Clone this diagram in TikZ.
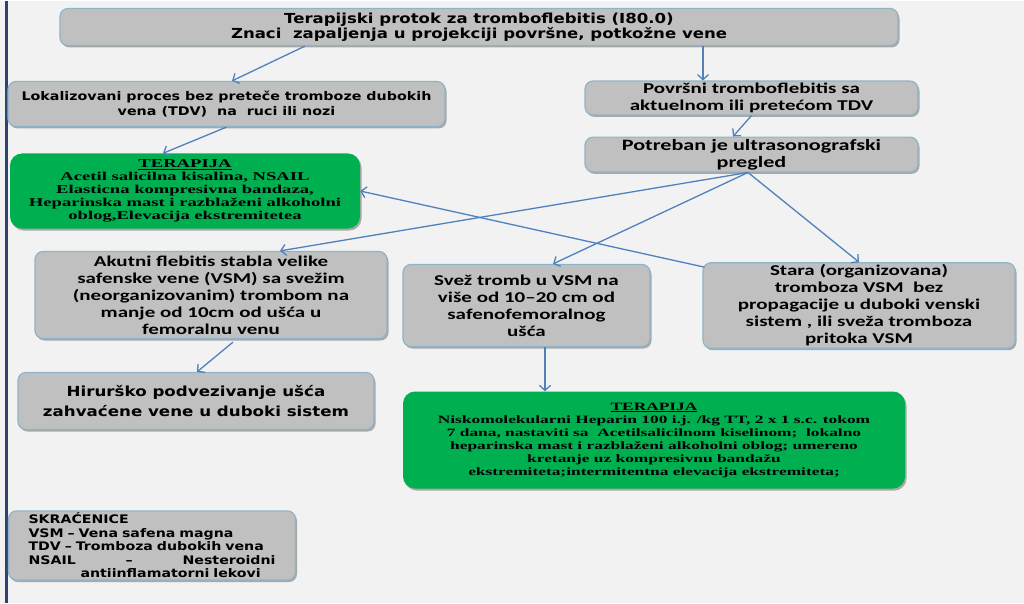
\documentclass[tikz,border=0pt]{standalone}
\usepackage{fontspec}
\usetikzlibrary{positioning,arrows.meta,shadows}
\definecolor{pagebg}{HTML}{F2F2F2}
\definecolor{boxgray}{HTML}{C0C0C0}
\definecolor{boxedge}{HTML}{8FB4CA}
\definecolor{therapy}{HTML}{00B050}
\definecolor{flowblue}{HTML}{4F81BD}
\definecolor{sidebar}{HTML}{2B4570}
\newfontfamily\heavyfont[FakeStretch=1.2]{DejaVu Sans}
\newfontfamily\calfont[FakeStretch=1.4]{Carlito}
\newfontfamily\serfont[FakeStretch=1.55]{Liberation Serif}

\begin{document}
\begin{tikzpicture}[x=1pt, y=-1pt,
    graybox/.style={draw=boxedge, line width=1.2pt, fill=boxgray, rounded corners=8pt,
      align=center, inner sep=2pt,
      drop shadow={shadow xshift=1.5pt, shadow yshift=-2pt, opacity=0.3, fill=black}},
    greenbox/.style={fill=therapy, rounded corners=12pt, align=center, inner sep=2pt,
      drop shadow={shadow xshift=1.5pt, shadow yshift=-2pt, opacity=0.3, fill=black}},
    heavytext/.style={font=\heavyfont\bfseries\fontsize{#1}{15}\selectfont},
    caltext/.style={font=\calfont\bfseries\fontsize{#1}{17}\selectfont},
    sertext/.style={font=\serfont\bfseries\fontsize{#1}{13}\selectfont},
    flow/.style={flowblue, line width=1.3pt, -{Straight Barb[length=5pt,width=11pt]}}]

    % Page background and side bar
    \fill[pagebg] (0,0) rectangle (1024,601);
    \draw[sidebar, line width=3pt] (6,0) -- (6,601);

    % Header
    \node[graybox, heavytext=13.8, minimum width=838, minimum height=37] (head) at (479,25.5)
      {Terapijski protok za tromboflebitis (I80.0)\\Znaci\ \ zapaljenja u projekciji površne, potkožne vene};

    % Left branch
    \node[graybox, heavytext=11.9, minimum width=437, minimum height=45] (local) at (226.5,102.5)
      {Lokalizovani proces bez preteče tromboze dubokih\\vena (TDV)\ \ na\ \ ruci ili nozi};
    \node[greenbox, sertext=12, minimum width=350, minimum height=75] (therapyA) at (185,189.5)
      {\underline{TERAPIJA}\\Acetil salicilna kisalina, NSAIL\\Elasticna kompresivna bandaza,\\Heparinska mast i razblaženi alkoholni\\oblog,Elevacija ekstremitetea};

    % Right branch
    \node[graybox, caltext=15, minimum width=333, minimum height=33] (superf) at (751.5,96.5)
      {Površni tromboflebitis sa\\aktuelnom ili pretećom TDV};
    \node[graybox, caltext=15.8, minimum width=333, minimum height=34] (ultra) at (751.5,153)
      {Potreban je ultrasonografski\\pregled};

    % Findings of the ultrasound
    \node[graybox, caltext=15, minimum width=352, minimum height=87] (acute) at (211,293.5)
      {Akutni flebitis stabla velike\\safenske vene (VSM) sa svežim\\(neorganizovanim) trombom na\\manje od 10cm od ušća u\\femoralnu venu};
    \node[graybox, caltext=15, minimum width=247, minimum height=82] (fresh) at (526.5,304)
      {Svež tromb u VSM na\\više od 10–20 cm od\\safenofemoralnog\\ušća};
    \node[graybox, caltext=15, minimum width=312, minimum height=82] (old) at (859,304)
      {Stara (organizovana)\\tromboza VSM\ \ bez\\propagacije u duboki venski\\sistem , ili sveža tromboza\\pritoka VSM};

    % Outcomes
    \node[graybox, font=\heavyfont\bfseries\fontsize{13.9}{20}\selectfont,
      minimum width=356, minimum height=57] (surgery) at (196,399.5)
      {Hirurško podvezivanje ušća\\zahvaćene vene u duboki sistem};
    \node[greenbox, sertext=11.2, minimum width=502, minimum height=97] (therapyB) at (654,438.5)
      {\underline{TERAPIJA}\\Niskomolekularni Heparin 100 i.j. /kg TT, 2 x 1 s.c. tokom\\7 dana, nastaviti sa\ \ Acetilsalicilnom kiselinom;\ \ lokalno\\heparinska mast i razblaženi\ alkoholni oblog; umereno\\kretanje uz kompresivnu bandažu\\ekstremiteta;intermitentna elevacija ekstremiteta;};

    % Abbreviations
    \node[graybox, font=\heavyfont\bfseries\fontsize{11.8}{13.5}\selectfont, align=left,
      text width=247, inner xsep=20, minimum height=68] (abbr) at (152,544)
      {SKRAĆENICE\\VSM – Vena safena magna\\TDV – Tromboza dubokih vena\\
       \makebox[247pt][s]{NSAIL\hfill –\hfill Nesteroidni}\\
       \hspace*{52pt}antiinflamatorni lekovi};

    % Connectors
    \draw[flow] ([xshift=-174]head.south) -- ([xshift=5.5]local.north);
    \draw[flow] ([xshift=224]head.south) -- ([xshift=-48.5]superf.north);
    \draw[flow] (local.south) -- ([xshift=-22]therapyA.north);
    \draw[flow] (superf.south) -- ([xshift=-18.5]ultra.north);
    \draw[flow] ([xshift=-3.5]ultra.south) -- ([xshift=69]acute.north);
    \draw[flow] ([xshift=-3.5]ultra.south) -- ([xshift=26.5]fresh.north);
    \draw[flow] ([xshift=-3.5]ultra.south) -- (old.north);
    \draw[flow] ([xshift=2,yshift=-5]old.north west) -- (therapyA.east);
    \draw[flow] ([xshift=22,yshift=-3]acute.south) -- ([xshift=1]surgery.north);
    \draw[flow] ([xshift=18.5]fresh.south) -- ([xshift=-109]therapyB.north);

  \end{tikzpicture}
\end{document}
